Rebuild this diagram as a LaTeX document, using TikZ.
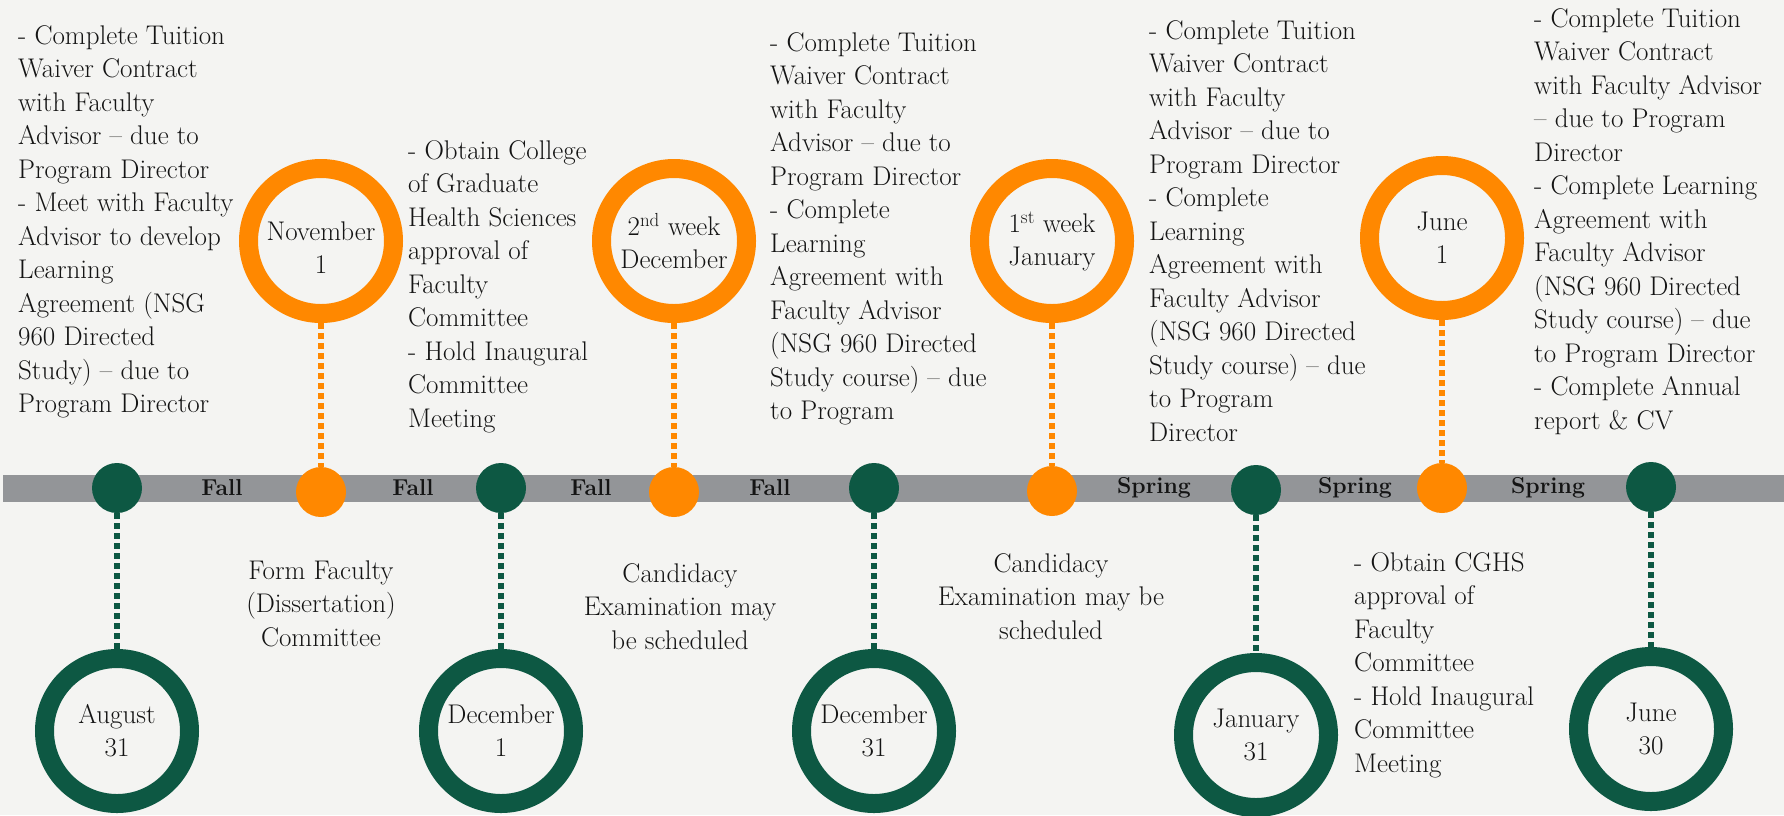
\documentclass[tikz,border=0pt]{standalone}
\definecolor{bgc}{HTML}{F4F4F2}
\definecolor{grn}{HTML}{0D5843}
\definecolor{org}{HTML}{FF8800}
\definecolor{barc}{HTML}{939598}
\definecolor{txt}{HTML}{141414}
\begin{document}
\begin{tikzpicture}[x=1pt,y=-1pt,
  body/.style={font=\fontsize{27}{33.5}\selectfont, text=txt, inner sep=0pt, align=left, anchor=north west},
  bodyc/.style={body, align=center, anchor=north},
  season/.style={font=\fontsize{23}{25}\selectfont\bfseries, text=txt, inner sep=0pt},
  bigo/.style={circle, draw=org, line width=19pt, fill=bgc, minimum size=145pt, inner sep=0pt, align=center, font=\fontsize{27}{33}\selectfont, text=txt},
  bigg/.style={bigo, draw=grn},
  dotg/.style={circle, fill=grn, minimum size=50pt, inner sep=0pt},
  doto/.style={dotg, fill=org},
  dotline/.style={line width=5.5pt, dash pattern=on 6pt off 4pt}]
\fill[bgc] (0,0) rectangle (1784,815);
\useasboundingbox (0,0) rectangle (1784,815);
\fill[barc] (3,475) rectangle (1784,502);
% season labels
\node[season] (s1) at (222,488) {Fall};
\node[season] (s2) at (413,488) {Fall};
\node[season] (s3) at (591,488) {Fall};
\node[season] (s4) at (770,488) {Fall};
\node[season] (s5) at (1154,488) {Spring};
\node[season] (s6) at (1355,488) {Spring};
\node[season] (s7) at (1548,488) {Spring};
% dots on the bar
\node[dotg] (gd1) at (117,488) {};
\node[doto] (od1) at (321,492) {};
\node[dotg] (gd2) at (501,488) {};
\node[doto] (od2) at (674,492) {};
\node[dotg] (gd3) at (874,488) {};
\node[doto] (od3) at (1052,491) {};
\node[dotg] (gd4) at (1256,490) {};
\node[doto] (od4) at (1442,488) {};
\node[dotg] (gd5) at (1651,487) {};
% top circles
\node[bigo] (o1) at (321,241) {\rule{0pt}{31pt}November\\1};
\node[bigo] (o2) at (674,241) {2\textsuperscript{nd} week\\December};
\node[bigo] (o3) at (1052,241) {1\textsuperscript{st} week\\January};
\node[bigo] (o4) at (1442,238) {June\\1};
% bottom circles
\node[bigg] (g1) at (117,731) {August\\31};
\node[bigg] (g2) at (501,731) {December\\1};
\node[bigg] (g3) at (874,731) {December\\31};
\node[bigg] (g4) at (1256,735) {January\\31};
\node[bigg] (g5) at (1651,729) {June\\30};
% connectors
\draw[dotline, org] (o1.south) -- (od1.north);
\draw[dotline, org] (o2.south) -- (od2.north);
\draw[dotline, org] (o3.south) -- (od3.north);
\draw[dotline, org] (o4.south) -- (od4.north);
\draw[dotline, grn] (gd1.south) -- (g1.north);
\draw[dotline, grn] (gd2.south) -- (g2.north);
\draw[dotline, grn] (gd3.south) -- (g3.north);
\draw[dotline, grn] (gd4.south) -- (g4.north);
\draw[dotline, grn] (gd5.south) -- (g5.north);
% text blocks
\node[body] (ta) at (18,25.3) {- Complete Tuition\\Waiver Contract\\with Faculty\\Advisor -- due to\\Program Director\\- Meet with Faculty\\Advisor to develop\\Learning\\Agreement (NSG\\960 Directed\\Study) -- due to\\Program Director};
\node[body] (tb) at (408,140.3) {- Obtain College\\of Graduate\\Health Sciences\\approval of\\Faculty\\Committee\\- Hold Inaugural\\Committee\\Meeting};
\node[body] (tc) at (770,32.3) {- Complete Tuition\\Waiver Contract\\with Faculty\\Advisor -- due to\\Program Director\\- Complete\\Learning\\Agreement with\\Faculty Advisor\\(NSG 960 Directed\\Study course) -- due\\to Program};
\node[body] (td) at (1149,20.3) {- Complete Tuition\\Waiver Contract\\with Faculty\\Advisor -- due to\\Program Director\\- Complete\\Learning\\Agreement with\\Faculty Advisor\\(NSG 960 Directed\\Study course) -- due\\to Program\\Director};
\node[body] (te) at (1534,8.3) {- Complete Tuition\\Waiver Contract\\with Faculty Advisor\\-- due to Program\\Director\\- Complete Learning\\Agreement with\\Faculty Advisor\\(NSG 960 Directed\\Study course) -- due\\to Program Director\\- Complete Annual\\report \& CV};
\node[bodyc] (tf) at (321,560.3) {Form Faculty\\(Dissertation)\\Committee};
\node[bodyc] (tg) at (680,563.3) {Candidacy\\Examination may\\be scheduled};
\node[bodyc] (th) at (1051,553.3) {Candidacy\\Examination may be\\scheduled};
\node[body] (ti) at (1354,552.3) {- Obtain CGHS\\approval of\\Faculty\\Committee\\- Hold Inaugural\\Committee\\Meeting};
\end{tikzpicture}
\end{document}
